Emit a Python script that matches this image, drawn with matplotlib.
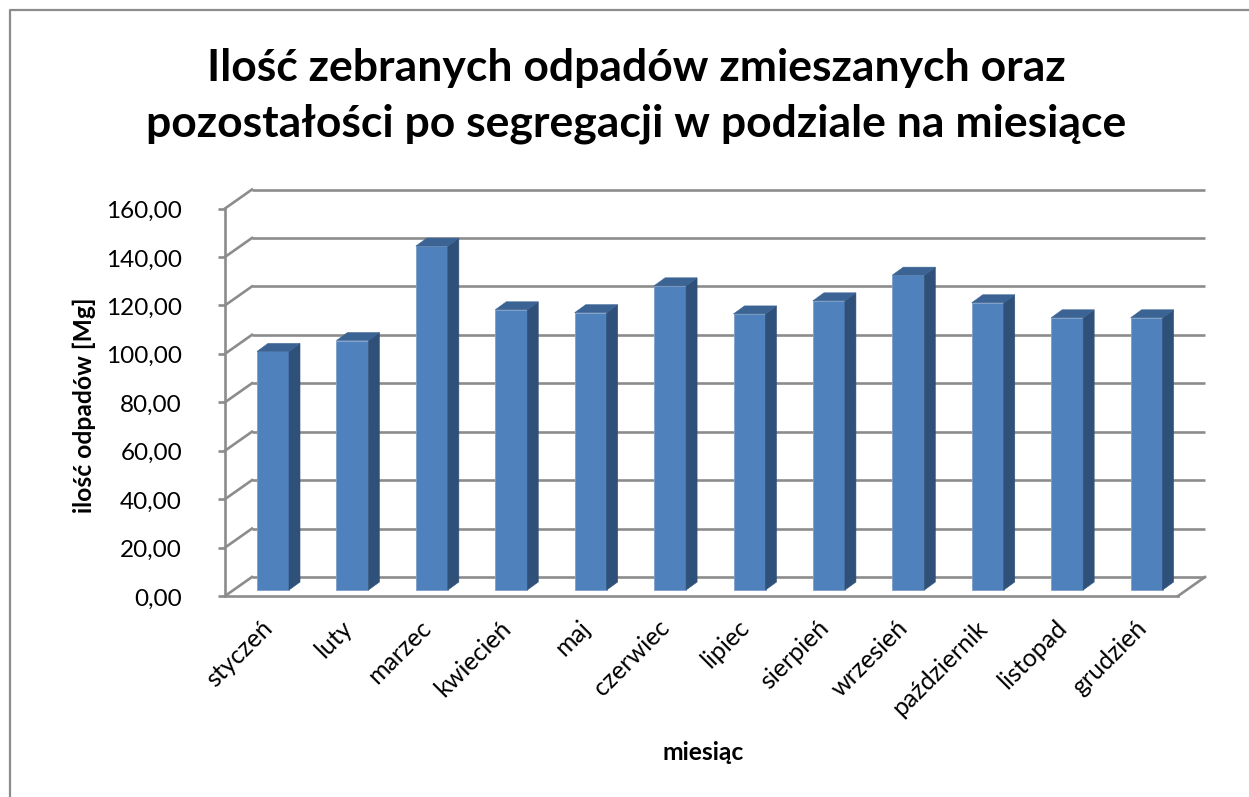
import matplotlib
matplotlib.use("Agg")
import matplotlib.pyplot as plt
from matplotlib.lines import Line2D
from matplotlib.patches import Polygon
from matplotlib.transforms import offset_copy

months = ["styczeń", "luty", "marzec", "kwiecień", "maj", "czerwiec", "lipiec",
          "sierpień", "wrzesień", "październik", "listopad", "grudzień"]
values = [98.5, 103.0, 142.0, 115.7, 114.5, 125.6, 114.0, 119.4, 130.0, 118.6, 112.4, 112.4]
y_ticks = list(range(0, 161, 20))
y_tick_labels = [f"{v},00" for v in y_ticks]
title = "Ilość zebranych odpadów zmieszanych oraz\npozostałości po segregacji w podziale na miesiące"
x_label = "miesiąc"
y_label = "ilość odpadów [Mg]"

W, H = 1249, 797
plt.rcParams["font.family"] = ["Lato", "Open Sans", "DejaVu Sans"]
fig = plt.figure(figsize=(W / 100, H / 100), dpi=100, facecolor="white")

# frame of the chart: only top and left edges are visible
fig.add_artist(Line2D([9.5 / W, 9.5 / W, 1], [0, 1 - 9.5 / H, 1 - 9.5 / H],
                      transform=fig.transFigure, color="#8c8c8c", lw=1.6))

L, R, B, T = 225, 1178, 596, 208.5
ax = fig.add_axes([L / W, 1 - B / H, (R - L) / W, (B - T) / H])
ax.set_xlim(-0.5, 11.5)
ax.set_ylim(0, 160)
ax.axis("off")
xu = (R - L) / 12          # px per category
yu = (B - T) / 160         # px per value unit
wall_dx, wall_dy = 27 / xu, 19 / yu
bar_dx, bar_dy = 11 / xu, 8 / yu
off_x, off_y = 8.3 / xu, 6 / yu
bar_w = 32 / xu
GRID = "#8c8c8c"
lw = 1.9

x0, x1 = -0.5, 11.5
for t, lab in zip(y_ticks, y_tick_labels):
    ax.plot([x0 + wall_dx, x1 + wall_dx], [t + wall_dy, t + wall_dy], color=GRID, lw=lw, clip_on=False, zorder=1, solid_capstyle="butt")
    ax.plot([x0, x0 + wall_dx], [t, t + wall_dy], color=GRID, lw=lw, clip_on=False, zorder=1)
    ax.plot([x0 - 7 / xu, x0], [t, t], color=GRID, lw=lw, clip_on=False, zorder=1, solid_capstyle="butt")
    ax.annotate(lab, xy=(x0, t), xytext=(-43, -3), textcoords="offset pixels",
                ha="right", va="center", fontsize=17.5, color="black", annotation_clip=False)
ax.plot([x0, x0], [0, 160], color=GRID, lw=lw, clip_on=False, zorder=1)
ax.plot([x0, x1], [0, 0], color=GRID, lw=lw, clip_on=False, zorder=1)
ax.plot([x1, x1 + wall_dx], [0, wall_dy], color=GRID, lw=lw, clip_on=False, zorder=1)

for i, v in enumerate(values):
    l = i + off_x - bar_w / 2
    r = l + bar_w
    b = off_y
    t = b + v
    ax.bar(l + bar_w / 2, v, bar_w, bottom=b, color="#4f81bd", ec="#7f9fc8", lw=0.6, zorder=3, clip_on=False)
    ax.add_patch(Polygon([(r, b), (r + bar_dx, b + bar_dy), (r + bar_dx, t + bar_dy), (r, t)],
                         fc="#2f5179", ec="#2f5179", lw=0.4, zorder=3, clip_on=False))
    ax.add_patch(Polygon([(l, t), (r, t), (r + bar_dx, t + bar_dy), (l + bar_dx, t + bar_dy)],
                         fc="#3b6494", ec="#3b6494", lw=0.4, zorder=3, clip_on=False))
    ax.annotate(months[i], xy=(i, 0), xytext=(-4, -20), textcoords="offset pixels",
                rotation=45, rotation_mode="anchor", ha="right", va="top",
                fontsize=18, color="black", annotation_clip=False)

fig.text(636 / W, 1 - 96 / H, title, ha="center", va="center", fontsize=32, fontweight="bold", linespacing=1.46)
fig.text(703 / W, 1 - 753 / H, x_label, ha="center", va="center", fontsize=17.7, fontweight="bold")
fig.text(84 / W, 1 - 405 / H, y_label, ha="center", va="center", rotation=90, fontsize=17.7, fontweight="bold")

fig.savefig("out.png", dpi=100, facecolor="white")
